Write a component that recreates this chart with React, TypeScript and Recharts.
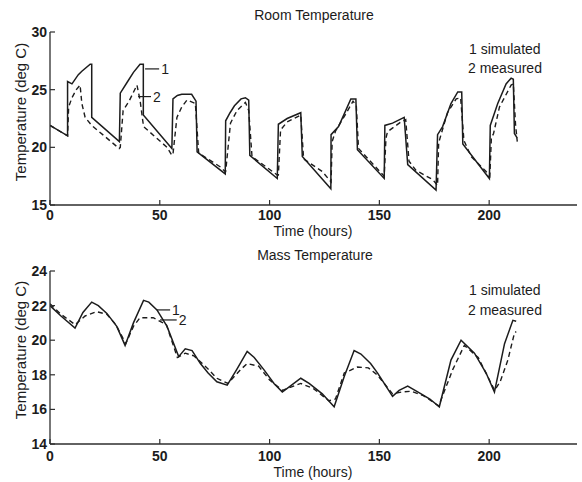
import { LineChart, Line, XAxis, YAxis, ReferenceLine } from 'recharts';

// room temperature, simulated (1) and measured (2)
const roomSimT = [0, 8, 8, 10, 12.9, 14.5, 18.3, 19, 19, 31.6, 32, 35, 38, 41, 42.5, 42.5, 55.5, 56, 58, 60, 64.5, 66.5, 67, 79.8, 80, 82, 84, 87, 89, 90.5, 91, 103.5, 104, 108, 114.2, 114.9, 127.9, 128, 131.4, 134, 137, 139.3, 140, 152.2, 152.5, 156, 161.3, 162.9, 175.8, 176.5, 178.8, 182.6, 185.7, 187.5, 188, 200.1, 200.5, 203.9, 207.7, 210, 211, 211.5, 212.8];
const roomSimV = [21.9, 21.0, 25.7, 25.5, 26.3, 26.6, 27.2, 27.2, 22.6, 20.5, 24.7, 25.6, 26.5, 27.2, 27.2, 22.8, 19.9, 24.2, 24.5, 24.6, 24.6, 24.0, 19.6, 17.7, 22.3, 23.0, 23.6, 24.2, 24.3, 24.1, 19.3, 17.3, 22.0, 22.5, 23.0, 19.2, 16.4, 21.1, 21.8, 22.9, 24.2, 24.2, 19.8, 17.3, 21.9, 22.1, 22.6, 18.5, 16.3, 21.1, 21.8, 23.8, 24.8, 24.8, 20.3, 17.3, 21.9, 23.8, 25.5, 26.0, 25.9, 21.2, 20.8];
const roomMeasT = [0, 8, 8.5, 10, 12, 13.7, 14.5, 16, 19, 31.5, 32, 33.3, 36, 39.6, 41, 42.6, 53.3, 55.5, 56, 57.8, 60, 62.4, 66.2, 67.7, 77.6, 79.8, 80, 82.2, 85.2, 89, 90.5, 92, 103.5, 104, 105, 108, 114.2, 115.5, 124, 128, 128.5, 130, 134.7, 138, 139.5, 140.5, 152.2, 153, 153.7, 159.8, 162, 163.5, 166.7, 174.3, 176.5, 177, 181, 185, 187, 188.5, 191.8, 198.6, 200.3, 201, 202, 204.7, 210, 211, 212, 212.8];
const roomMeasV = [21.9, 21.0, 23.5, 24.3, 25.0, 25.4, 23.8, 22.6, 21.9, 19.9, 20.0, 23.2, 24.0, 25.4, 24.1, 21.8, 20.0, 19.3, 19.4, 22.6, 23.5, 24.1, 23.8, 19.5, 18.3, 17.9, 17.9, 22.1, 23.2, 23.9, 23.2, 19.2, 17.6, 17.6, 21.5, 22.2, 22.8, 19.0, 17.9, 17.0, 20.5, 21.4, 22.9, 24.0, 23.6, 19.9, 17.5, 20.8, 21.35, 22.2, 22.4, 18.8, 18.0, 17.2, 16.7, 20.4, 23.0, 24.2, 24.3, 20.6, 19.2, 17.9, 17.5, 20.8, 21.2, 23.5, 25.4, 25.5, 22.0, 20.5];

// mass temperature, simulated (1) and measured (2)
const massSimT = [0, 5, 11.4, 15, 19, 22, 25.9, 30.4, 34.2, 38, 42.6, 45, 48.7, 53.3, 58.6, 61.6, 64.7, 68.5, 72, 76, 80.7, 85, 89.8, 93, 97.4, 102, 105.8, 110, 114.2, 118, 124, 129.4, 134, 138.5, 141.6, 146, 149.2, 156, 159, 162.9, 169, 173, 177.3, 182.6, 187.2, 193.3, 198.6, 202.4, 207, 210.8, 212.3];
const massSimV = [22.0, 21.4, 20.7, 21.6, 22.2, 22.0, 21.55, 20.8, 19.7, 21.0, 22.3, 22.2, 21.75, 20.8, 19.05, 19.5, 19.4, 18.65, 18.1, 17.6, 17.4, 18.3, 19.35, 19.0, 18.3, 17.5, 17.0, 17.4, 17.8, 17.5, 16.9, 16.15, 17.9, 19.4, 19.2, 18.65, 18.1, 16.75, 17.1, 17.35, 16.9, 16.6, 16.15, 18.85, 20.0, 19.25, 18.1, 17.0, 19.8, 21.15, 21.1];
const massMeasT = [0, 5, 11.4, 16, 21.3, 25.9, 30, 34.5, 38, 41, 47, 53, 58, 61.6, 65.5, 71.5, 76, 81, 86.8, 89.8, 95, 100, 105.8, 110, 114.2, 120, 127, 130, 134, 140, 145, 149, 156, 160, 164.4, 170, 177, 183.4, 188.7, 195, 202.5, 205, 208.5, 211.5, 212.3];
const massMeasV = [22.1, 21.5, 20.9, 21.4, 21.65, 21.5, 20.9, 19.8, 20.8, 21.3, 21.3, 20.9, 19.0, 19.25, 19.1, 18.4, 17.8, 17.5, 18.3, 18.65, 18.5, 17.7, 17.1, 17.3, 17.5, 17.2, 16.5, 16.6, 18.1, 18.45, 18.4, 18.0, 16.9, 17.0, 17.05, 16.8, 16.2, 18.3, 19.7, 19.0, 17.1, 17.6, 18.85, 20.4, 20.5];

const hourTicks = [0, 50, 100, 150, 200];
const roomTicks = [15, 20, 25, 30];
const massTicks = [14, 16, 18, 20, 22, 24];

// curve tags "1" / "2" with their leader lines (data units)
const roomTags = [
  { tag: '1', t0: 43.3, t1: 49.7, v: 26.8 },
  { tag: '2', t0: 40.1, t1: 46.0, v: 24.4 },
];
const massTags = [
  { tag: '1', t0: 48.6, t1: 54.7, v: 21.75 },
  { tag: '2', t0: 50.1, t1: 57.7, v: 21.17 },
];

const FONT = '"Liberation Sans", Arial, Helvetica, sans-serif';
const INK = '#1c1c1c';
const AXIS = '#2e2e2e';
const tickStyle = { fill: INK, fontSize: 14, fontWeight: 700, fontFamily: FONT };

const toPoints = (ts: number[], vs: number[]) => ts.map((t, i) => ({ t, v: vs[i] }));

interface Tag { tag: string; t0: number; t1: number; v: number }
interface PanelProps {
  simT: number[]; simV: number[]; measT: number[]; measV: number[];
  yTicks: number[]; tags: Tag[];
  height: number; marginTop: number; axisHeight: number; xTickMargin: number;
}

function Panel({ simT, simV, measT, measV, yTicks, tags, height, marginTop, axisHeight, xTickMargin }: PanelProps) {
  const sim = toPoints(simT, simV);
  const meas = toPoints(measT, measV);
  const yDomain = [yTicks[0], yTicks[yTicks.length - 1]];
  const axisLine = { stroke: AXIS, strokeWidth: 1.3 };
  const tickLine = { stroke: AXIS, strokeWidth: 1.2 };

  return (
    <LineChart width={582} height={height} margin={{ top: marginTop, right: 5, bottom: 0, left: 0 }}>
      <XAxis
        xAxisId="b" type="number" dataKey="t" domain={[0, 240]} ticks={hourTicks} interval={0}
        allowDataOverflow height={axisHeight} tickSize={-5} tickMargin={xTickMargin}
        axisLine={axisLine} tickLine={tickLine} tick={tickStyle}
      />
      <XAxis
        xAxisId="t" orientation="top" type="number" domain={[0, 240]} ticks={hourTicks} interval={0}
        allowDataOverflow height={0} tickSize={-5} axisLine={axisLine} tickLine={tickLine} tick={false}
      />
      <YAxis
        yAxisId="l" type="number" domain={yDomain} ticks={yTicks} interval={0} allowDataOverflow
        width={50} tickSize={-5} tickMargin={8} axisLine={axisLine} tickLine={tickLine} tick={tickStyle}
      />
      <YAxis
        yAxisId="r" orientation="right" type="number" domain={yDomain} ticks={yTicks} interval={0}
        allowDataOverflow width={0} tickSize={-5} axisLine={axisLine} tickLine={tickLine} tick={false}
      />
      <Line
        xAxisId="b" yAxisId="l" data={sim} dataKey="v" type="linear" stroke={INK} strokeWidth={1.5}
        dot={false} activeDot={false} isAnimationActive={false}
      />
      <Line
        xAxisId="b" yAxisId="l" data={meas} dataKey="v" type="linear" stroke={INK} strokeWidth={1.4}
        strokeDasharray="5 3.5" dot={false} activeDot={false} isAnimationActive={false}
      />
      {tags.map(n => (
        <ReferenceLine
          key={n.tag} xAxisId="b" yAxisId="l"
          segment={[{ x: n.t0, y: n.v }, { x: n.t1, y: n.v }]}
          stroke={INK} strokeWidth={1.2}
          label={{ value: n.tag, position: 'right', offset: 2, fill: INK, fontSize: 14, fontFamily: FONT }}
        />
      ))}
    </LineChart>
  );
}

const txt = (left: number, top: number, s: string) => (
  <div style={{ position: 'absolute', left, top, fontSize: 14, lineHeight: '14px', color: INK, fontFamily: FONT, whiteSpace: 'nowrap' }}>
    {s}
  </div>
);

const centered = (cx: number, cy: number, s: string) => (
  <div style={{ position: 'absolute', left: cx - 100, top: cy - 7, width: 200, textAlign: 'center', fontSize: 14, lineHeight: '14px', color: INK, fontFamily: FONT }}>
    {s}
  </div>
);

const yLabel = (cx: number, cy: number, s: string) => (
  <div style={{ position: 'absolute', left: cx - 100, top: cy - 8, width: 200, textAlign: 'center', fontSize: 15, lineHeight: '16px', color: INK, fontFamily: FONT, transform: 'rotate(-90deg)' }}>
    {s}
  </div>
);

export default function App() {
  return (
    <div style={{ position: 'absolute', left: 0, top: 0, width: 582, height: 482, background: '#fff', overflow: 'hidden' }}>
      <div style={{ position: 'absolute', left: 0, top: 0 }}>
        <Panel
          simT={roomSimT} simV={roomSimV} measT={roomMeasT} measV={roomMeasV}
          yTicks={roomTicks} tags={roomTags} height={240} marginTop={32} axisHeight={35} xTickMargin={10}
        />
      </div>
      <div style={{ position: 'absolute', left: 0, top: 240 }}>
        <Panel
          simT={massSimT} simV={massSimV} measT={massMeasT} measV={massMeasV}
          yTicks={massTicks} tags={massTags} height={242} marginTop={31} axisHeight={38} xTickMargin={12}
        />
      </div>

      {centered(314, 15, 'Room Temperature')}
      {centered(313, 231, 'Time (hours)')}
      {yLabel(21, 112, 'Temperature (deg C)')}
      {txt(469, 42, '1 simulated')}
      {txt(468, 61, '2 measured')}

      {centered(315, 255, 'Mass Temperature')}
      {centered(313, 472, 'Time (hours)')}
      {yLabel(21, 350, 'Temperature (deg C)')}
      {txt(469, 283, '1 simulated')}
      {txt(468, 303, '2 measured')}
    </div>
  );
}
